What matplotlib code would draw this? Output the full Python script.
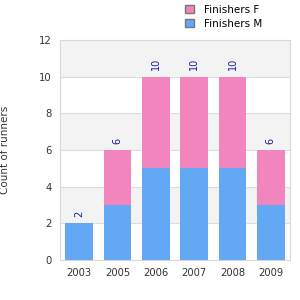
import numpy as np
import matplotlib.pyplot as plt
from matplotlib.patches import Patch

years = ["2003", "2005", "2006", "2007", "2008", "2009"]
male = [2, 3, 5, 5, 5, 3]
female = [0, 3, 5, 5, 5, 3]
totals = [m + f for m, f in zip(male, female)]

col_m = "#62a8f4"
col_f = "#f285bd"

fig = plt.figure(figsize=(3, 3), dpi=100)
ax = fig.add_axes([60 / 300, 40 / 300, 230 / 300, 220 / 300])

x = np.arange(len(years))
ax.bar(x, male, width=0.73, color=col_m, zorder=2)
ax.bar(x, female, width=0.73, bottom=male, color=col_f, zorder=2)

# bandas alternas
for lo in range(0, 12, 2):
    c = "#f3f3f3" if (lo // 2) % 2 == 1 else "white"
    ax.axhspan(lo, lo + 2, color=c, zorder=0, lw=0)
for yv in range(2, 12, 2):
    ax.axhline(yv, color="#dddddd", lw=0.8, zorder=1)

for xi, t in zip(x, totals):
    ax.text(xi, t + 0.35, str(t), rotation=90, ha="center", va="bottom",
            fontsize=7, color="#1a1a9a")

ax.set_xlim(-0.5, len(years) - 0.5)
ax.set_ylim(0, 12)
ax.set_yticks(range(0, 13, 2))
ax.set_xticks(x)
ax.set_xticklabels(years)
ax.tick_params(length=0, labelsize=7.2, colors="#333333", pad=6)
for s in ax.spines.values():
    s.set_color("#d8d8d8")
ax.set_ylabel("Count of runners", fontsize=7.5, color="#333333", labelpad=21)

handles = [Patch(facecolor=col_f, edgecolor="#777777", label="Finishers F"),
           Patch(facecolor=col_m, edgecolor="#777777", label="Finishers M")]
fig.legend(handles=handles, loc="upper left", bbox_to_anchor=(176 / 300, 1.015),
           frameon=False, fontsize=7.5, handlelength=0.8, handleheight=0.8,
           labelspacing=0.35, handletextpad=1.0)

fig.savefig("out.png", dpi=100)
